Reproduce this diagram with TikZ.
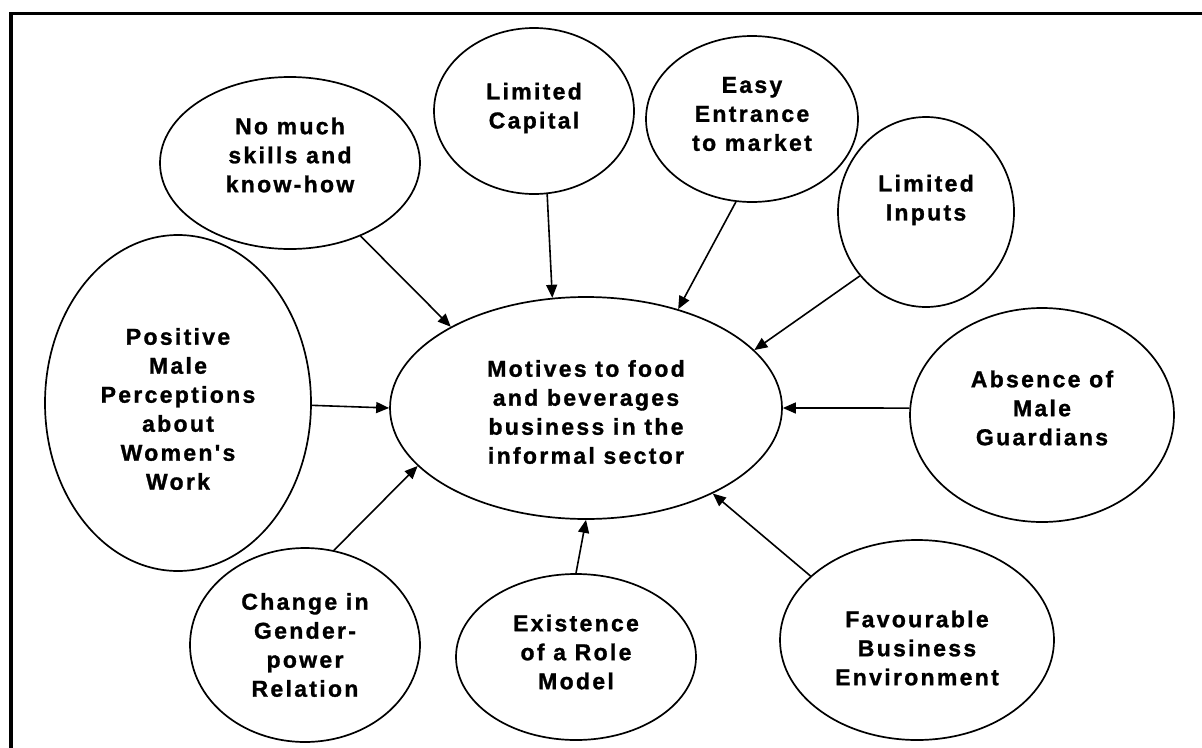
\documentclass[tikz,border=0pt]{standalone}
\usepackage{fontspec}
\newfontfamily\lblfont[LetterSpace=10,FakeBold=1.2]{Liberation Sans}
\usetikzlibrary{arrows.meta,shapes.geometric}
\tikzset{
  bub/.style={draw, ellipse, line width=1.7pt, inner sep=0pt},
  lbl/.style={inner sep=0pt, align=center,
    font=\lblfont\bfseries\fontsize{23pt}{29pt}\selectfont},
  arr/.style={line width=1.6pt, -{Triangle[length=13pt,width=11pt]}},
  frame/.style={line width=3.5pt}
}
\begin{document}
\begin{tikzpicture}[x=1pt,y=-1pt]
\useasboundingbox (0,0) rectangle (1202,747);
\draw[frame] (11,760) -- (11,13.7) -- (1215,13.7);

\node[bub, minimum width=260pt, minimum height=172pt] (A) at (290,163) {};
\node[bub, minimum width=200pt, minimum height=166pt] (B) at (534,111) {};
\node[bub, minimum width=212pt, minimum height=166pt] (C) at (752,119) {};
\node[bub, minimum width=176pt, minimum height=190pt] (D) at (926,212) {};
\node[bub, minimum width=264pt, minimum height=214pt] (E) at (1042,415) {};
\node[bub, minimum width=392pt, minimum height=222pt] (M) at (586,408) {};
\node[bub, minimum width=266pt, minimum height=336pt] (P) at (178,403) {};
\node[bub, minimum width=230pt, minimum height=194pt] (G) at (305,645) {};
\node[bub, minimum width=240pt, minimum height=166pt] (R) at (576,657) {};
\node[bub, minimum width=274pt, minimum height=200pt] (F) at (917,640) {};

\node[lbl] (At) at ([yshift=8pt]A.center) {No much\\skills and\\know-how};
\node[lbl] (Bt) at ([yshift=3pt]B.center) {Limited\\Capital};
\node[lbl] (Ct) at ([yshift=5pt]C.center) {Easy\\Entrance\\to market};
\node[lbl] (Dt) at ([yshift=12pt]D.center) {Limited\\Inputs};
\node[lbl] (Et) at ([yshift=7pt]E.center) {Absence of\\Male\\Guardians};
\node[lbl] (Mt) at ([yshift=-4pt]M.center) {Motives to food\\and beverages\\business in the\\informal sector};
\node[lbl] (Pt) at ([yshift=-6pt]P.center) {Positive\\Male\\Perceptions\\about\\Women's\\Work};
\node[lbl] (Gt) at (G.center) {Change in\\Gender-\\power\\Relation};
\node[lbl] (Rt) at ([yshift=5pt]R.center) {Existence\\of a Role\\Model};
\node[lbl] (Ft) at ([yshift=-8pt]F.center) {Favourable\\Business\\Environment};

\draw[arr] (A.-46.6) -- (M.149.7);
\draw[arr] (B.-81.8) -- (M.107.6);
\draw[arr] (C.-101.6) -- (M.47.3);
\draw[arr] (D.-136.7) -- (M.19.6);
\draw[arr] (E.177) -- (M.0);
\draw[arr] (P.-1) -- (M.180);
\draw[arr] (G.73.9) -- (M.-161.4);
\draw[arr] (R.90) -- (M.-90.5);
\draw[arr] (F.149.6) -- (M.-34.6);
\end{tikzpicture}
\end{document}
